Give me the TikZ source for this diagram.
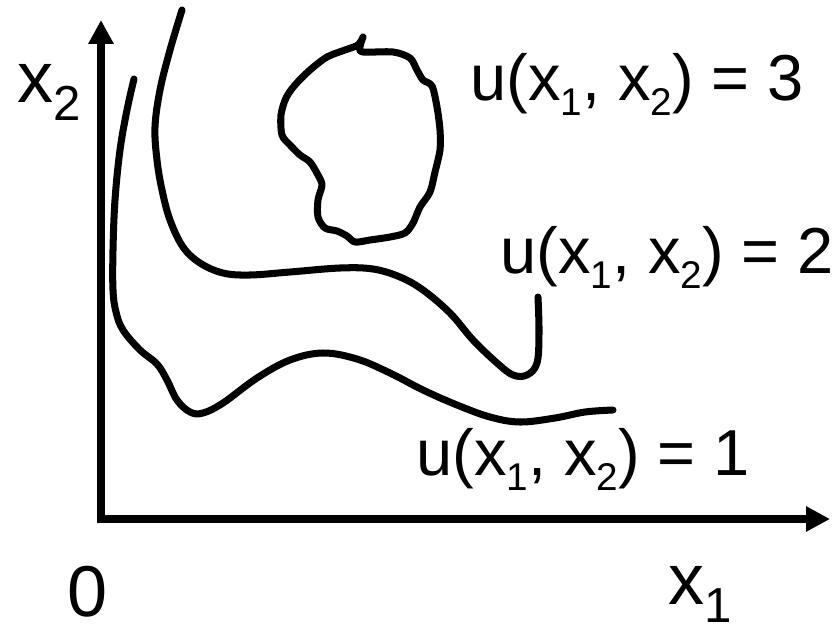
\documentclass[tikz,border=0pt]{standalone}
\usepackage{fontspec}
\setmainfont{Liberation Sans}
\usepackage{tikz}
\usetikzlibrary{arrows.meta}
\newcommand{\lo}[1]{\raisebox{-0.24em}{\fontsize{22}{22}\selectfont #1}}
\newcommand{\axlo}[1]{\raisebox{-0.26em}{\fontsize{28}{28}\selectfont #1}}

\tikzset{
  axis/.style={line width=4.2pt,-{Triangle[length=0.48cm,width=0.48cm]}},
  level/.style={line width=4pt,line cap=round,line join=round},
  lab/.style={inner sep=0pt,anchor=base west,font=\fontsize{37}{44}\selectfont},
  axlab/.style={inner sep=0pt,anchor=base west,font=\fontsize{41}{48}\selectfont}
}

\begin{document}
\begin{tikzpicture}[x=0.02cm,y=-0.02cm]
\useasboundingbox (0,0) rectangle (838,636);
% axes
\coordinate (O) at (101,519);
\coordinate (ytip) at (101,20);
\coordinate (xtip) at (830,519);
\draw[axis] ([yshift=-0.07cm]O) -- (ytip);
\draw[axis] ([xshift=-0.07cm]O) -- (xtip);
\node[axlab] (xtwo) at (17,102) {x\axlo{2}};
\node[axlab] (xone) at (668,604) {x\axlo{1}};
\node[axlab] (zero) at (67,616) {0};
% level curves
\draw[level] plot[smooth,tension=0.6] coordinates {(134,79) (127,110) (120,150) (115,200) (113,250) (113,290)
  (116,312) (123,330) (140,350) (157,364) (167,380) (177,400) (190,412) (203,413) (223,403) (257,378)
  (290,360) (323,353) (357,359) (390,373) (423,390) (457,405) (490,417) (520,422) (555,418) (585,412) (613,410)};
\draw[level] plot[smooth,tension=0.6] coordinates {(182,10) (170,50) (160,90) (155,127) (157,160) (162,190)
  (170,220) (183,247) (200,263) (223,273) (250,275) (290,272) (340,268) (373,269) (400,277) (423,290)
  (450,313) (473,340) (497,363) (513,375) (527,375) (537,363) (539,333) (538,297)};
\draw[level] plot[smooth,tension=0.5] coordinates {(363,37) (360,47) (363,52) (393,52) (410,58) (417,70)
  (423,80) (432,86) (437,107) (440,130) (440,150) (435,172) (430,192) (420,207) (413,223) (405,233)
  (390,237) (370,240) (355,242) (347,236) (337,231) (325,228) (318,217) (318,200) (322,185) (318,175)
  (310,162) (300,155) (290,145) (282,135) (281,115) (286,98) (295,85) (310,70) (327,57) (345,50)
  (358,45) (363,37)};
% labels
\node[lab] (uthree) at (470,100) {u(x\lo{1}, x\lo{2}) = 3};
\node[lab] (utwo) at (500,273) {u(x\lo{1}, x\lo{2}) = 2};
\node[lab] (uone) at (416,475) {u(x\lo{1}, x\lo{2}) = 1};
\end{tikzpicture}
\end{document}
